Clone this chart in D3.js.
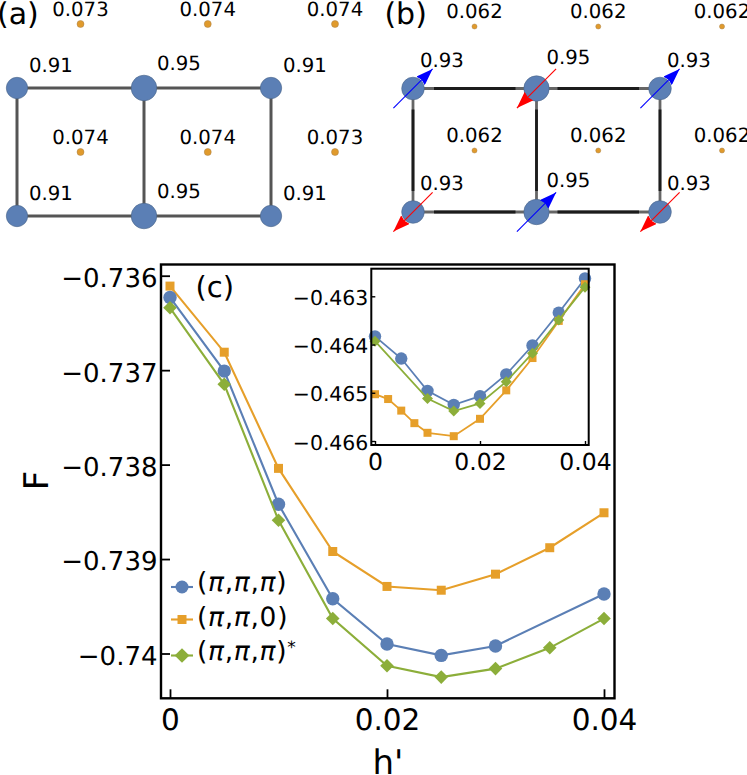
<!DOCTYPE html>
<html>
<head>
<meta charset="utf-8">
<script src="https://cdn.jsdelivr.net/npm/d3@7"></script>
<style>
body { margin: 0; background: #fff; }
text { font-family: "DejaVu Sans", sans-serif; fill: #000; text-rendering: geometricPrecision; }
</style>
</head>
<body>
<script>
// main panel (c)
var hMain = [0, 0.005, 0.01, 0.015, 0.02, 0.025, 0.03, 0.035, 0.04];
var hMainBlue = [0, 0.005, 0.01, 0.015, 0.02, 0.025, 0.03, 0.04];
var mainBlue = [-0.73623, -0.73701, -0.73842, -0.73942, -0.7399, -0.74002, -0.73992, -0.73937];
var mainOrange = [-0.73611, -0.73681, -0.73804, -0.73892, -0.73929, -0.73933, -0.73916, -0.73888, -0.73851];
var mainGreen = [-0.73634, -0.73715, -0.73859, -0.73963, -0.74013, -0.74025, -0.74016, -0.73994, -0.73963];

// inset
var hInsetBlue = [0, 0.005, 0.01, 0.015, 0.02, 0.025, 0.03, 0.035, 0.04];
var hInsetOrange = [0, 0.0025, 0.005, 0.0075, 0.01, 0.015, 0.02, 0.025, 0.03, 0.035, 0.04];
var hInsetGreen = [0, 0.01, 0.015, 0.02, 0.025, 0.03, 0.035, 0.04];
var insetBlue = [-0.46383, -0.46429, -0.46496, -0.46525, -0.46507, -0.46462, -0.46402, -0.46334, -0.46263];
var insetOrange = [-0.46503, -0.46513, -0.46537, -0.46563, -0.46583, -0.4659, -0.46554, -0.46495, -0.46428, -0.46351, -0.46275];
var insetGreen = [-0.46393, -0.46512, -0.46538, -0.46522, -0.46477, -0.46418, -0.46349, -0.46281];

// lattice panels, columns/rows in lattice units
var siteCols = [0, 1, 2], siteRows = [0, 1];
var sitesA = [[0.91, 0.95, 0.91], [0.91, 0.95, 0.91]];
var sitesB = [[0.93, 0.95, 0.93], [0.93, 0.95, 0.93]];
var spinsB = [[1, -1, 1], [-1, 1, -1]];
var plaqA = [["0.073", "0.074", "0.074"], ["0.074", "0.074", "0.073"]];
var plaqB = [["0.062", "0.062", "0.062"], ["0.062", "0.062", "0.062"]];

var blue = "#5b7fb5", orange = "#e69f2a", green = "#8cae3a";

var svg = d3.select("body").append("svg")
    .attr("width", 747).attr("height", 775);

var defs = svg.append("defs");
[["up", "#0000ff"], ["down", "#ff0000"]].forEach(function(d) {
    defs.append("marker").attr("id", "head-" + d[0])
        .attr("viewBox", "0 0 17 12").attr("refX", 17).attr("refY", 6)
        .attr("markerWidth", 17).attr("markerHeight", 12)
        .attr("markerUnits", "userSpaceOnUse").attr("orient", "auto")
      .append("path").attr("d", "M0,0L17,6L0,12L1.5,6Z").attr("fill", d[1]);
});

function lattice(cfg) {
    var g = svg.append("g");
    var x = d3.scaleLinear().domain([0, 2]).range(cfg.xr);
    var y = d3.scaleLinear().domain([0, 1]).range(cfg.yr);
    var px = d3.scaleLinear().domain([0, 2]).range(cfg.pxr);
    var py = d3.scaleLinear().domain([0, 1]).range(cfg.pyr);
    var r = d3.scaleLinear().domain(cfg.rDomain).range(cfg.rRange);

    var bonds = [];
    siteRows.forEach(function(j) {
        siteCols.slice(0, 2).forEach(function(i) {
            bonds.push([i, j, i + 1, j]);
        });
    });
    siteCols.forEach(function(i) {
        bonds.push([i, 0, i, 1]);
    });
    g.selectAll(".bond").data(bonds).enter().append("line")
        .attr("class", "bond")
        .attr("x1", d => x(d[0])).attr("y1", d => y(d[1]))
        .attr("x2", d => x(d[2])).attr("y2", d => y(d[3]))
        .attr("stroke", cfg.bond).attr("stroke-width", cfg.bondWidth);
    if (cfg.bondCore) {
        // darker middle part, the ends by the sites stay grey
        var inset = 21;
        g.selectAll(".core").data(bonds).enter().append("line")
            .attr("class", "core")
            .attr("x1", d => x(d[0]) + (d[1] == d[3] ? inset : 0)).attr("y1", d => y(d[1]) + (d[1] == d[3] ? 0 : inset))
            .attr("x2", d => x(d[2]) - (d[1] == d[3] ? inset : 0)).attr("y2", d => y(d[3]) - (d[1] == d[3] ? 0 : inset))
            .attr("stroke", cfg.bondCore).attr("stroke-width", cfg.bondWidth);
    }

    siteRows.forEach(function(j) {
        siteCols.forEach(function(i) {
            var v = cfg.sites[j][i], big = v == 0.95;
            g.append("circle")
                .attr("cx", x(i)).attr("cy", y(j)).attr("r", r(v))
                .attr("fill", blue).attr("stroke", "#4a6488").attr("stroke-width", 0.6);
            g.append("text")
                .attr("x", x(i) + (big ? cfg.bigDx : cfg.labelDx))
                .attr("y", y(j) + (big ? cfg.bigDy : cfg.labelDy))
                .attr("font-size", 19.7).text(v.toFixed(2));

            g.append("circle")
                .attr("cx", px(i)).attr("cy", py(j)).attr("r", cfg.plaqR)
                .attr("fill", "#e09a2c").attr("stroke", "#a8814a").attr("stroke-width", 0.5);
            g.append("text")
                .attr("x", px(i)).attr("y", py(j) - 8.5)
                .attr("text-anchor", "middle")
                .attr("font-size", 19.7).text(cfg.plaq[j][i]);
        });
    });

    if (cfg.spins) {
        siteRows.forEach(function(j) {
            siteCols.forEach(function(i) {
                var s = cfg.spins[j][i], a = 19.6;
                g.append("line")
                    .attr("x1", x(i) - s * a).attr("y1", y(j) + s * a)
                    .attr("x2", x(i) + s * a).attr("y2", y(j) - s * a)
                    .attr("stroke", s > 0 ? "#0000ff" : "#ff0000")
                    .attr("stroke-width", 1.1)
                    .attr("marker-end", "url(#head-" + (s > 0 ? "up" : "down") + ")");
            });
        });
    }
    g.append("text").attr("x", cfg.tagX).attr("y", 24)
        .attr("font-size", 30).text(cfg.tag);
}

lattice({
    xr: [17, 271], yr: [88, 216], pxr: [80.5, 335], pyr: [24, 152],
    sites: sitesA, plaq: plaqA, plaqR: 3.5,
    rDomain: [0.91, 0.95], rRange: [10.7, 12.8],
    bond: "#555", bondWidth: 3, labelDx: 12, labelDy: -16.3, bigDx: 13, bigDy: -18,
    tag: "(a)", tagX: -3
});
lattice({
    xr: [413, 660], yr: [88.5, 212], pxr: [474.5, 722], pyr: [26.5, 150.5],
    sites: sitesB, plaq: plaqB, plaqR: 2.5, spins: spinsB,
    rDomain: [0.93, 0.95], rRange: [11.3, 12.7],
    bond: "#666", bondCore: "#1c1c1c", bondWidth: 2.8, labelDx: 7, labelDy: -22, bigDx: 10, bigDy: -25,
    tag: "(b)", tagX: 384.4
});

function markers(g, pts, kind, size, color) {
    var sym = kind == "circle" ? d3.symbolCircle : d3.symbolSquare;
    var area = kind == "circle" ? Math.PI * size * size : (2 * size) * (2 * size);
    g.selectAll("path.m").data(pts).enter().append("path")
        .attr("class", "m")
        .attr("d", d3.symbol().type(sym).size(area))
        .attr("transform", d => "translate(" + d[0] + "," + d[1] + ")" + (kind == "diamond" ? " rotate(45)" : ""))
        .attr("fill", color);
}

function series(g, x, y, hs, vs, kind, size, color, width) {
    var pts = hs.map((h, i) => [x(h), y(vs[i])]);
    g.append("path")
        .attr("d", d3.line()(pts))
        .attr("fill", "none").attr("stroke", color).attr("stroke-width", width);
    markers(g.append("g"), pts, kind, size, color);
}

function fmt(d) {
    return d3.format(".3~f")(d).replace("-", "\u2212");
}

function frame(g, box, width) {
    g.append("rect")
        .attr("x", box.x0).attr("y", box.y0)
        .attr("width", box.x1 - box.x0).attr("height", box.y1 - box.y0)
        .attr("fill", "none").attr("stroke", "#000").attr("stroke-width", width);
}

function styleAxis(sel, fs, w, dy) {
    sel.select(".domain").remove();
    sel.selectAll(".tick line").attr("stroke", "#000").attr("stroke-width", w);
    sel.selectAll(".tick text").attr("font-size", fs).attr("font-family", '"DejaVu Sans", sans-serif').attr("fill", "#000");
    if (dy) sel.selectAll(".tick text").attr("dy", dy);
}

// panel (c)
var mainBox = {x0: 161, x1: 614.5, y0: 264.5, y1: 698.3};
var xMain = d3.scaleLinear().domain([0, 0.04]).range([170, 604]);
var yMain = d3.scaleLinear().domain([-0.736, -0.74]).range([275.7, 653.5]);
var gMain = svg.append("g");

series(gMain, xMain, yMain, hMain, mainOrange, "square", 4.5, orange, 2.1);
series(gMain, xMain, yMain, hMainBlue, mainBlue, "circle", 6.7, blue, 2.1);
series(gMain, xMain, yMain, hMain, mainGreen, "diamond", 4.8, green, 2.1);

gMain.append("g").attr("transform", "translate(0," + mainBox.y1 + ")")
    .call(d3.axisBottom(xMain).tickValues([0, 0.02, 0.04]).tickFormat(d => d === 0 ? "0" : d3.format(".2f")(d)).tickSize(-9).tickPadding(11))
    .call(styleAxis, 29.5, 1.8);
gMain.append("g").attr("transform", "translate(" + mainBox.x0 + ",0)")
    .call(d3.axisLeft(yMain).tickValues([-0.736, -0.737, -0.738, -0.739, -0.74]).tickFormat(fmt).tickSize(-9).tickPadding(3.5))
    .call(styleAxis, 26, 1.8, "0.42em");
frame(gMain, mainBox, 2.4);

svg.append("text").attr("x", 195.5).attr("y", 296.5).attr("font-size", 29).text("(c)");
svg.append("text").attr("x", 388).attr("y", 774).attr("text-anchor", "middle").attr("font-size", 34).text("h'");
svg.append("text").attr("transform", "translate(48,480.5) rotate(-90)").attr("text-anchor", "middle").attr("font-size", 34).text("F");

// legend
var legendItems = [
    {kind: "circle", size: 6.5, color: blue, y: 587, base: 591, suffix: "\u03c0"},
    {kind: "square", size: 4.5, color: orange, y: 619.5, base: 626, suffix: "0"},
    {kind: "diamond", size: 5.2, color: green, y: 655.5, base: 660, suffix: "\u03c0", star: true}
];
legendItems.forEach(function(d) {
    var g = svg.append("g");
    g.append("line").attr("x1", 171).attr("x2", 193).attr("y1", d.y).attr("y2", d.y)
        .attr("stroke", d.color).attr("stroke-width", 2.1);
    markers(g, [[182, d.y]], d.kind, d.size, d.color);
    var t = svg.append("text").attr("x", 197).attr("y", d.base).attr("font-size", 26.5).attr("letter-spacing", 0.7);
    t.append("tspan").text("(");
    t.append("tspan").attr("font-style", "italic").text("\u03c0");
    t.append("tspan").text(",");
    t.append("tspan").attr("font-style", "italic").text("\u03c0");
    t.append("tspan").text(",");
    t.append("tspan").attr("font-style", d.suffix == "0" ? "normal" : "italic").text(d.suffix);
    t.append("tspan").text(")");
    if (d.star) t.append("tspan").attr("font-size", 17).attr("dy", -7.4).text("*");
});

// inset
var insetBox = {x0: 371.3, x1: 588.7, y0: 268.7, y1: 445};
var xIn = d3.scaleLinear().domain([0, 0.04]).range([375, 585]);
var yIn = d3.scaleLinear().domain([-0.463, -0.466]).range([296.3, 441]);
var gIn = svg.append("g");
gIn.append("rect").attr("x", insetBox.x0).attr("y", insetBox.y0)
    .attr("width", insetBox.x1 - insetBox.x0).attr("height", insetBox.y1 - insetBox.y0).attr("fill", "#fff");

series(gIn, xIn, yIn, hInsetBlue, insetBlue, "circle", 6.2, blue, 1.8);
series(gIn, xIn, yIn, hInsetOrange, insetOrange, "square", 4, orange, 1.8);
series(gIn, xIn, yIn, hInsetGreen, insetGreen, "diamond", 3.9, green, 1.8);

gIn.append("g").attr("transform", "translate(0," + insetBox.y1 + ")")
    .call(d3.axisBottom(xIn).tickValues([0, 0.02, 0.04]).tickFormat(d => d === 0 ? "0" : d3.format(".2f")(d)).tickSize(-4).tickPadding(8))
    .call(styleAxis, 23.5, 1.4);
gIn.append("g").attr("transform", "translate(" + insetBox.x0 + ",0)")
    .call(d3.axisLeft(yIn).tickValues([-0.463, -0.464, -0.465, -0.466]).tickFormat(fmt).tickSize(-4).tickPadding(3))
    .call(styleAxis, 20.4, 1.4, "0.4em");
frame(gIn, insetBox, 2);
</script>
</body>
</html>
